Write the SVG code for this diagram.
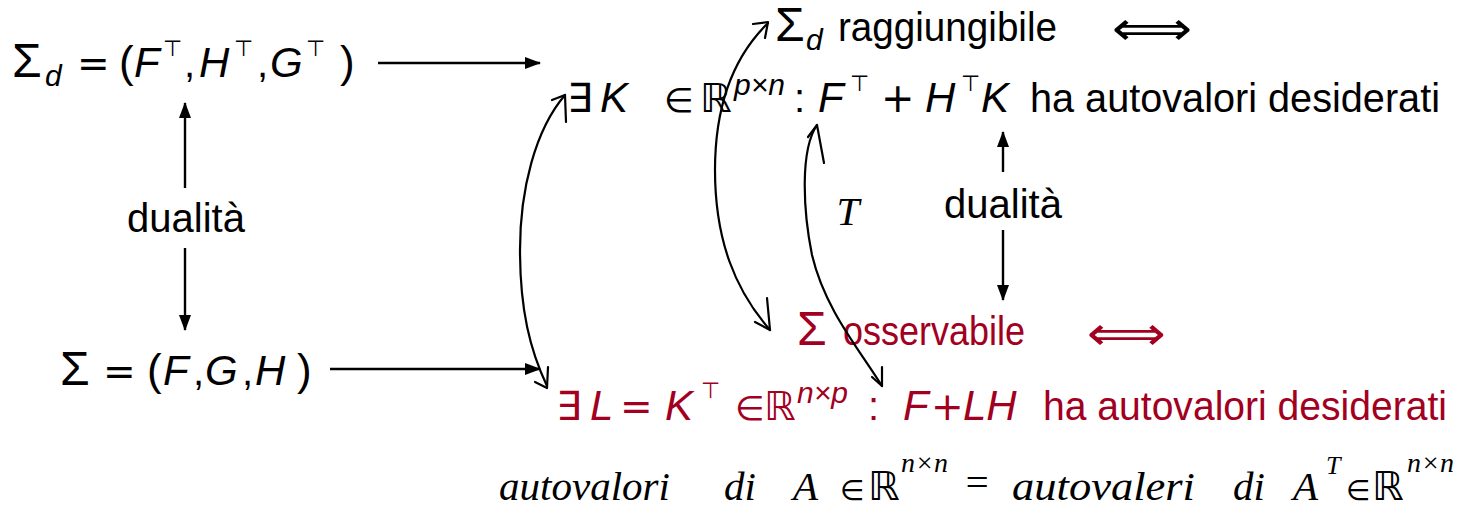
<svg xmlns="http://www.w3.org/2000/svg" width="1462" height="512" viewBox="0 0 1462 512">
<style>
text{font-family:"Liberation Sans","DejaVu Sans",sans-serif;font-size:40px;fill:#000}
.red text,text.red{fill:#a2001f}
.it{font-style:italic;font-size:42px}
.sym{font-family:"DejaVu Sans",sans-serif}
.el{font-family:"DejaVu Sans",sans-serif;font-size:34px}
.big{font-size:48px}
.eq{font-family:"DejaVu Sans",sans-serif;font-size:39px}
.par{font-size:44px}
.sup{font-family:"DejaVu Sans",sans-serif;font-size:22px}
.sub{font-size:30px}
.iff{font-family:"DejaVu Sans",sans-serif;font-size:48px}
.hand{font-family:"Liberation Serif",serif;font-style:italic;font-size:41px}
.hs{font-family:"DejaVu Sans",sans-serif;font-style:normal}
.arr{stroke:#000;stroke-width:2.4;fill:none}
.hd{stroke:#000;stroke-width:2.2;fill:none;stroke-linecap:round;stroke-linejoin:round}
</style>
<defs>
<marker id="ah" viewBox="0 0 16 12" refX="15" refY="6" markerWidth="16" markerHeight="12" markerUnits="userSpaceOnUse" orient="auto">
<path d="M0,0 L16,6 L0,12 Z" fill="#000"/>
</marker>
</defs>

<g id="sigma-d">
<text y="77"><tspan class="big" x="12">Σ</tspan><tspan class="it sub" x="45" y="86">d</tspan><tspan class="eq" x="77" y="77">=</tspan><tspan class="par" x="119">(</tspan><tspan class="it" x="134">F</tspan><tspan class="sup" x="163" y="56">⊤</tspan><tspan x="184" y="77">,</tspan><tspan class="it" x="199">H</tspan><tspan class="sup" x="234" y="56">⊤</tspan><tspan x="257" y="77">,</tspan><tspan class="it" x="270">G</tspan><tspan class="sup" x="306" y="56">⊤</tspan><tspan class="par" x="340" y="77">)</tspan></text>
</g>

<g id="dualita-left">
<text x="186" y="232" text-anchor="middle">dualità</text>
</g>

<g id="sigma">
<text y="385"><tspan class="big" x="60">Σ</tspan><tspan class="eq" x="103">=</tspan><tspan class="par" x="147">(</tspan><tspan class="it" x="163">F</tspan><tspan x="193">,</tspan><tspan class="it" x="205">G</tspan><tspan x="242">,</tspan><tspan class="it" x="255">H</tspan><tspan class="par" x="297">)</tspan></text>
</g>

<g id="raggiungibile">
<text y="41"><tspan class="big" x="775">Σ</tspan><tspan class="it sub" x="806" y="50">d</tspan><tspan x="838" y="41" textLength="219" lengthAdjust="spacingAndGlyphs">raggiungibile</tspan></text>
<text class="iff" transform="translate(1112,45) scale(1.17,1)" x="0" y="0">⟺</text>
</g>

<g id="exists-K">
<text y="112"><tspan class="sym" x="567">∃</tspan><tspan class="it" x="600">K</tspan><tspan class="el" x="664">∈</tspan><tspan class="sym" x="700">ℝ</tspan><tspan class="it sub" x="734" y="95">p×n</tspan><tspan x="794" y="112">:</tspan><tspan class="it" x="818">F</tspan><tspan class="sup" x="850" y="91">⊤</tspan><tspan class="sym" x="881" y="112">+</tspan><tspan class="it" x="925">H</tspan><tspan class="sup" x="961" y="91">⊤</tspan><tspan class="it" x="981" y="112">K</tspan><tspan x="1030" textLength="410" lengthAdjust="spacingAndGlyphs">ha autovalori desiderati</tspan></text>
</g>

<g id="dualita-right">
<text x="1003" y="218" text-anchor="middle">dualità</text>
</g>

<g id="osservabile" class="red">
<text y="345"><tspan class="big" x="797">Σ</tspan><tspan x="843" textLength="182" lengthAdjust="spacingAndGlyphs">osservabile</tspan></text>
<text class="iff red" transform="translate(1087,350) scale(1.15,1)" x="0" y="0">⟺</text>
</g>

<g id="exists-L" class="red">
<text y="420"><tspan class="sym" x="556">∃</tspan><tspan class="it" x="590">L</tspan><tspan class="eq" x="620">=</tspan><tspan class="it" x="665">K</tspan><tspan class="sup" x="701" y="398">⊤</tspan><tspan class="el" x="735" y="420">∈</tspan><tspan class="sym" x="764">ℝ</tspan><tspan class="it sub" x="797" y="403">n×p</tspan><tspan x="868" y="420">:</tspan><tspan class="it" x="903">F</tspan><tspan class="eq" x="931">+</tspan><tspan class="it" x="963">LH</tspan><tspan x="1043" textLength="404" lengthAdjust="spacingAndGlyphs">ha autovalori desiderati</tspan></text>
</g>

<g id="transpose-note">
<text class="hand" x="848" y="225" text-anchor="middle" font-size="34" font-style="normal">T</text>
</g>

<g id="handwritten-note">
<text class="hand" y="500"><tspan x="499" textLength="171" lengthAdjust="spacingAndGlyphs">autovalori</tspan><tspan x="724">di</tspan><tspan x="793">A</tspan><tspan class="hs" x="840" font-size="28">∈</tspan><tspan class="hs" x="868" font-size="40">ℝ</tspan><tspan x="901" y="472" font-size="28">n×n</tspan><tspan x="963" y="496">=</tspan><tspan x="1012" y="500" textLength="183" lengthAdjust="spacingAndGlyphs">autovaleri</tspan><tspan x="1233">di</tspan><tspan x="1293">A</tspan><tspan x="1326" y="474" font-size="26">T</tspan><tspan class="hs" x="1346" y="500" font-size="28">∈</tspan><tspan class="hs" x="1372" font-size="40">ℝ</tspan><tspan x="1407" y="472" font-size="28">n×n</tspan></text>
</g>

<g id="connectors">
<line class="arr" x1="378" y1="63" x2="540" y2="63" marker-end="url(#ah)"/>
<line class="arr" x1="330" y1="369" x2="540" y2="369" marker-end="url(#ah)"/>
<line class="arr" x1="185" y1="188" x2="185" y2="103" marker-end="url(#ah)"/>
<line class="arr" x1="185" y1="248" x2="185" y2="330" marker-end="url(#ah)"/>
<line class="arr" x1="1003" y1="172" x2="1003" y2="132" marker-end="url(#ah)"/>
<line class="arr" x1="1003" y1="230" x2="1003" y2="300" marker-end="url(#ah)"/>
<path class="hd" d="M565,95 C535,130 520,190 520,250 C520,310 530,350 547,386"/>
<path class="hd" d="M552,100 L565,95 L566,122"/>
<path class="hd" d="M535,382 L547,388 L548,367"/>
<path class="hd" d="M768,23 C730,60 715,110 715,170 C715,240 735,290 770,330"/>
<path class="hd" d="M753,24 L768,22 L765,38"/>
<path class="hd" d="M755,322 L770,330 L767,298"/>
<path class="hd" d="M824,163 L817,125 C800,150 803,210 812,255 C825,310 860,350 882,386"/>
<path class="hd" d="M808,137 L817,125"/>
<path class="hd" d="M872,377 L882,386 L882,367"/>
</g>
</svg>
